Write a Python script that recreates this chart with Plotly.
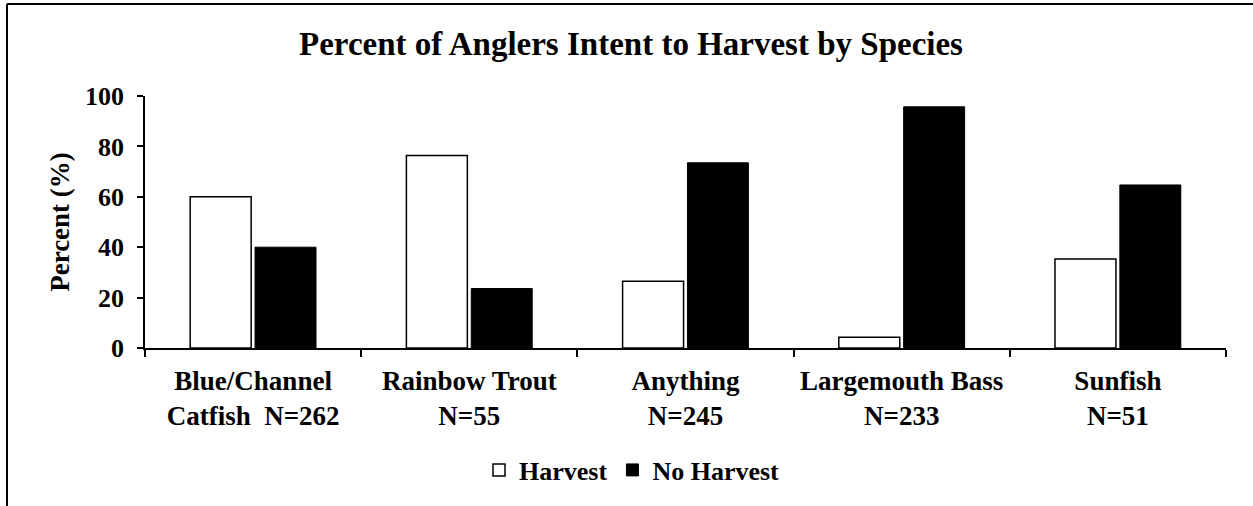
import plotly.graph_objects as go

# ---- data ----
species_labels = [
    "Blue/Channel<br>Catfish\u00a0 N=262",
    "Rainbow Trout<br>N=55",
    "Anything<br>N=245",
    "Largemouth Bass<br>N=233",
    "Sunfish<br>N=51",
]
harvest = [60.0, 76.4, 26.5, 4.3, 35.3]
no_harvest = [40.0, 23.6, 73.5, 95.7, 64.7]
y_ticks = [0, 20, 40, 60, 80, 100]
series_names = ["Harvest", "No Harvest"]

FONT = "Liberation Serif, Times New Roman, serif"

fig = go.Figure()
fig.add_trace(go.Bar(
    x=species_labels, y=harvest, name=series_names[0],
    marker=dict(color="white", line=dict(color="black", width=1.5)),
))
fig.add_trace(go.Bar(
    x=species_labels, y=no_harvest, name=series_names[1],
    marker=dict(color="black", line=dict(color="black", width=1)),
))

W, H = 1253, 506
L, R, T, B = 145, 27, 96, 158
pw = W - L - R
ph = H - T - B

def px_x(x):
    return (x - L) / pw

def px_y(y):
    return (H - B - y) / ph

fig.update_layout(
    width=W, height=H,
    margin=dict(l=L, r=R, t=T, b=B),
    paper_bgcolor="white", plot_bgcolor="white",
    barmode="group", bargap=0.4, bargroupgap=0.06,
    font=dict(family=FONT, color="black", size=26, weight="bold"),
    title=dict(
        text="Percent of Anglers Intent to Harvest by Species",
        font=dict(family=FONT, size=33, color="black", weight="bold"),
        x=631 / W, xref="container", xanchor="center",
        y=1 - 43 / H, yref="container", yanchor="middle",
    ),
    legend=dict(
        orientation="h",
        x=632 / W, xref="container", xanchor="center",
        y=1 - 470 / H, yref="container", yanchor="middle",
        font=dict(family=FONT, size=26, color="black", weight="bold"),
        bgcolor="rgba(0,0,0,0)",
    ),
    showlegend=True,
)

fig.update_xaxes(
    showline=True, linecolor="black", linewidth=1.5,
    ticks="outside", tickson="boundaries", ticklen=7, tickwidth=1.5, tickcolor="black",
    tickfont=dict(family=FONT, size=27, color="black", weight="bold"),
    ticklabelstandoff=8,
    showgrid=False, zeroline=False,
)
fig.update_yaxes(
    range=[0, 100], tickvals=y_ticks,
    showline=True, linecolor="black", linewidth=1.5,
    ticks="outside", ticklen=6, tickwidth=1.5, tickcolor="black",
    tickfont=dict(family=FONT, size=26, color="black", weight="bold"),
    ticklabelstandoff=8,
    showgrid=False, zeroline=False,
    title=dict(text="Percent (%)", standoff=8,
               font=dict(family=FONT, size=27, color="black", weight="bold")),
)

# chart-area frame (top and left edges visible)
fig.add_shape(type="line", xref="paper", yref="paper",
              x0=px_x(7), x1=px_x(1300), y0=px_y(4), y1=px_y(4),
              line=dict(color="black", width=2))
fig.add_shape(type="line", xref="paper", yref="paper",
              x0=px_x(7), x1=px_x(7), y0=px_y(4), y1=px_y(520),
              line=dict(color="black", width=2))

fig.write_html(
    "out.html",
    config={"displayModeBar": False},
    post_script="document.body.style.margin='0px';document.body.style.overflow='hidden';",
)
